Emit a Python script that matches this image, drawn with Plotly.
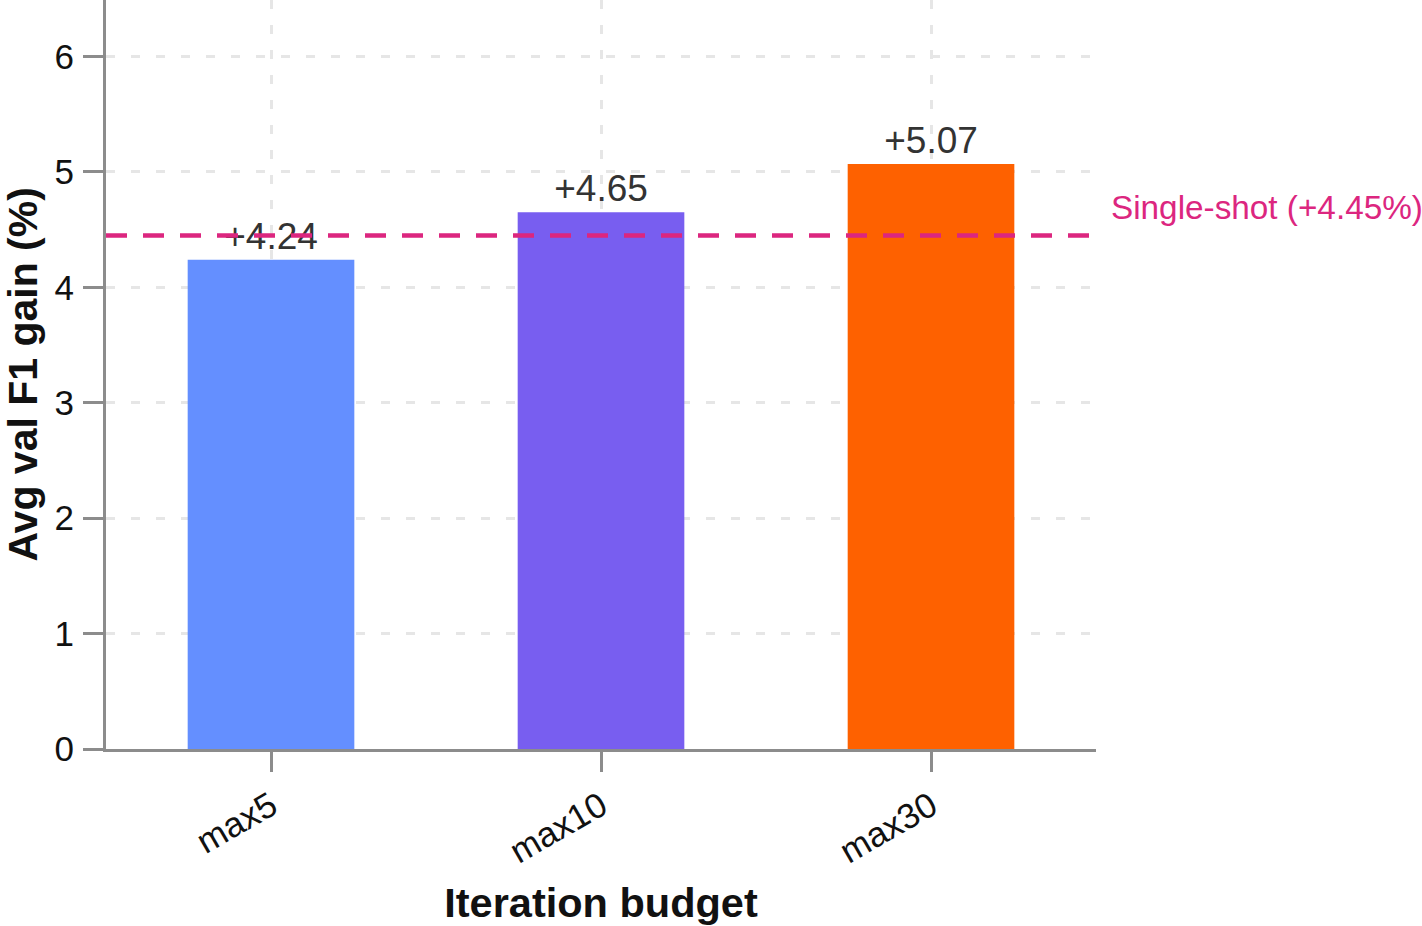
import plotly.graph_objects as go

categories = ["max5", "max10", "max30"]
gains = [4.24, 4.65, 5.07]
bar_labels = ["+4.24", "+4.65", "+5.07"]
bar_colors = ["#648FFF", "#785EF0", "#FE6100"]
single_shot = 4.45
y_tick_vals = [0, 1, 2, 3, 4, 5, 6]

FONT = "Liberation Sans, Arial, Helvetica, sans-serif"
AXIS_GREY = "#8c8c8c"
GRID = "#e6e6e6"

fig = go.Figure()
fig.add_trace(go.Bar(
    x=categories, y=gains, width=0.505,
    marker=dict(color=bar_colors, line=dict(width=0)),
    text=bar_labels, textposition="outside",
    textfont=dict(family=FONT, size=37, color="#333333"),
    cliponaxis=False, showlegend=False,
))

fig.add_shape(type="line", xref="paper", x0=0, x1=1, yref="y",
              y0=single_shot, y1=single_shot, layer="above",
              line=dict(color="#DC267F", width=4.5, dash="21px,16px"))
fig.add_annotation(xref="paper", x=1, xanchor="left", xshift=13,
                   yref="y", y=single_shot, yanchor="bottom", yshift=7,
                   text=f"Single-shot (+{single_shot:.2f}%)", showarrow=False,
                   font=dict(family=FONT, size=33.3, color="#DC267F"))

# y-axis title as a rotated annotation for precise placement
fig.add_annotation(xref="paper", x=0, xanchor="center", xshift=-84,
                   yref="paper", y=0.5, yanchor="middle",
                   text="<b>Avg val F1 gain (%)</b>", textangle=-90,
                   showarrow=False,
                   font=dict(family=FONT, size=41, color="#111111"))

axis_common = dict(
    showline=True, linecolor=AXIS_GREY, linewidth=3,
    ticks="outside", ticklen=20, tickwidth=3, tickcolor=AXIS_GREY,
    showgrid=True, gridcolor=GRID, gridwidth=3, griddash="9px,16px",
    zeroline=False, tickfont=dict(family=FONT, size=35, color="#111111"),
)

fig.update_layout(
    width=1422, height=926,
    margin=dict(l=106, r=326, t=0, b=177),
    plot_bgcolor="white", paper_bgcolor="white",
    font=dict(family=FONT),
    xaxis=dict(**axis_common, tickangle=-30,
               title=dict(text="<b>Iteration budget</b>", standoff=22,
                          font=dict(family=FONT, size=41.5, color="#111111"))),
    yaxis=dict(**axis_common, range=[0, 6.49], tickvals=y_tick_vals,
               ticklabelstandoff=2),
)

fig.write_html("out.html")
